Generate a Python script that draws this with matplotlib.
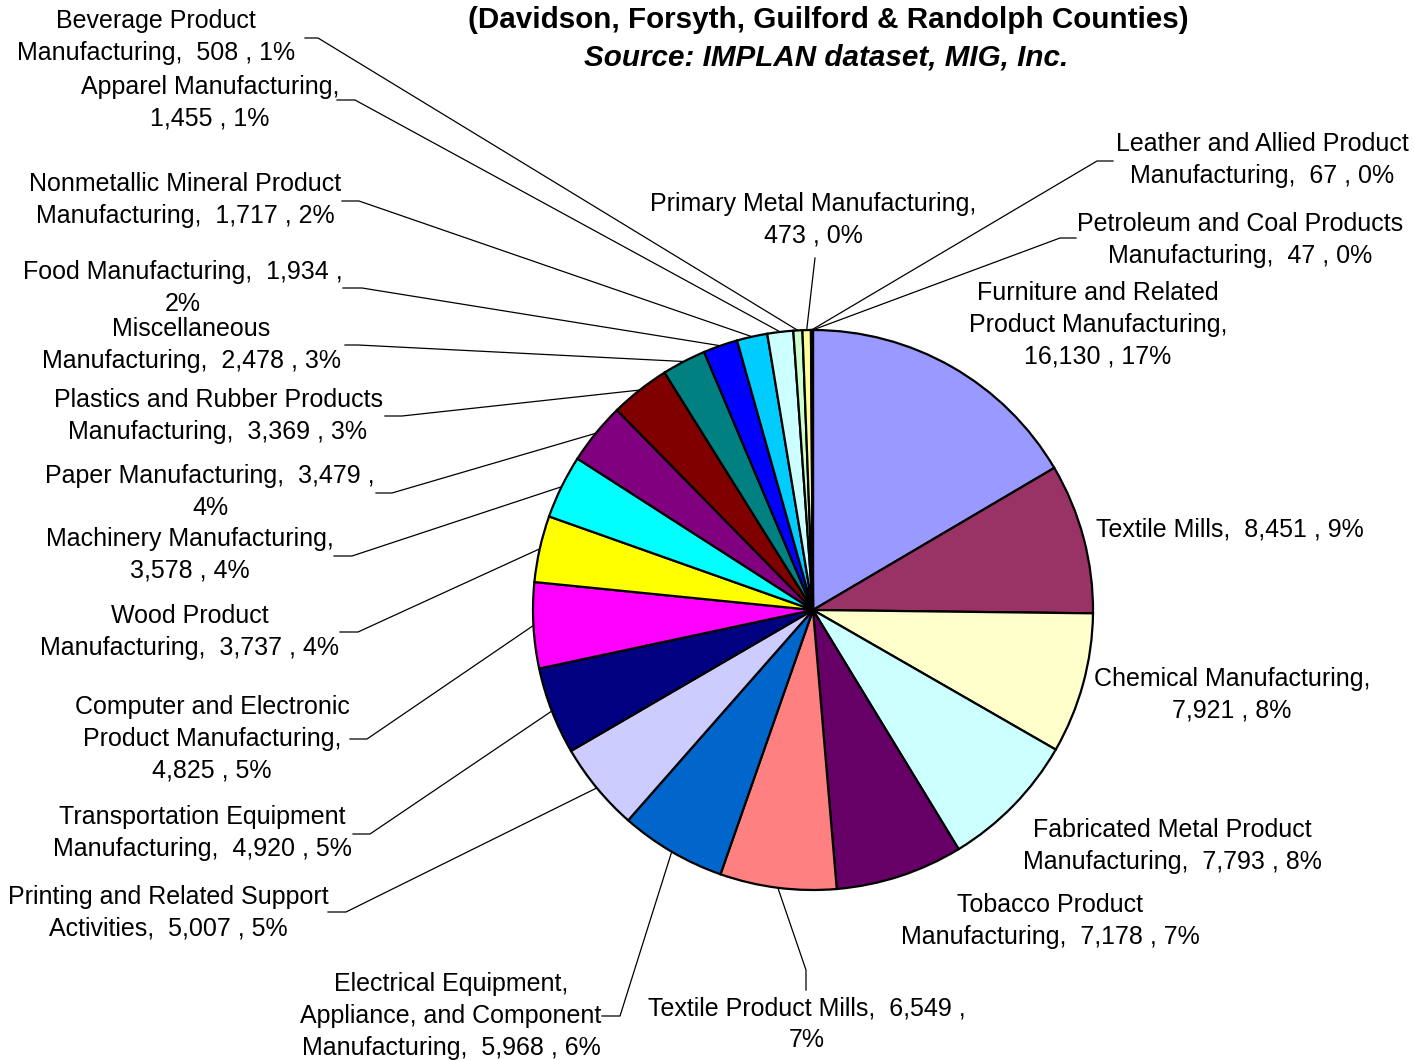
import matplotlib
matplotlib.use("Agg")
import matplotlib.pyplot as plt
import numpy as np

# données (ordre horaire depuis le haut)
categories = [
    "Furniture and Related\nProduct Manufacturing", "Textile Mills",
    "Chemical Manufacturing", "Fabricated Metal Product\nManufacturing",
    "Tobacco Product\nManufacturing", "Textile Product Mills",
    "Electrical Equipment,\nAppliance, and Component\nManufacturing",
    "Printing and Related Support\nActivities",
    "Transportation Equipment\nManufacturing",
    "Computer and Electronic\nProduct Manufacturing",
    "Wood Product\nManufacturing", "Machinery Manufacturing",
    "Paper Manufacturing", "Plastics and Rubber Products\nManufacturing",
    "Miscellaneous\nManufacturing", "Food Manufacturing",
    "Nonmetallic Mineral Product\nManufacturing", "Apparel Manufacturing",
    "Beverage Product\nManufacturing", "Primary Metal Manufacturing",
    "Leather and Allied Product\nManufacturing",
    "Petroleum and Coal Products\nManufacturing",
]
values = [16130, 8451, 7921, 7793, 7178, 6549, 5968, 5007, 4920, 4825, 3737,
          3578, 3479, 3369, 2478, 1934, 1717, 1455, 508, 473, 67, 47]
colors = ["#9999FF", "#993366", "#FFFFCC", "#CCFFFF", "#660066", "#FF8080",
          "#0066CC", "#CCCCFF", "#000080", "#FF00FF", "#FFFF00", "#00FFFF",
          "#800080", "#800000", "#008080", "#0000FF", "#00CCFF", "#CCFFFF",
          "#CCFFCC", "#FFFF99", "#99CCFF", "#FF99CC"]

# mise en page des étiquettes (coordonnées image, y vers le bas)
A = "{n},  {v} , {p}%"
B = "{n},\n{v} , {p}%"
C = "{n},  {v} ,\n{p}%"
fmts = [B, A, B, A, A, C, A, A, A, B, A, B, C, A, A, C, A, B, A, B, A, A]
text_pos = [(1098, 325), (1230, 530), (1232, 695), (1172, 846), (1050, 921),
            (807, 1024), (451, 1016), (168, 913), (202, 833), (212, 739),
            (190, 632), (190, 555), (210, 492), (218, 416), (191, 345),
            (183, 288), (185, 200), (210, 103), (156, 37), (813, 220),
            (1262, 160), (1240, 240)]
leaders = [None, None, None, None, None,
           [(806, 970), (806, 990)], [(620, 1016), (602, 1016)],
           [(346, 912), (328, 912)], [(370, 834), (353, 834)],
           [(367, 739), (350, 739)], [(358, 632), (340, 632)],
           [(352, 556), (334, 556)], [(392, 493), (376, 493)],
           [(402, 416), (385, 416)], [(358, 345), (345, 345)],
           [(362, 288), (343, 288)], [(359, 201), (342, 201)],
           [(355, 100), (337, 100)], [(318, 38), (305, 38)],
           [(815, 258)], [(1097, 161), (1113, 161)], [(1060, 238), (1076, 238)]]

W, H = 1414, 1060
Y = lambda y: H - y
cx, cy, r = 813, Y(610), 280

plt.rcParams['font.family'] = ['Liberation Sans', 'DejaVu Sans']
fig = plt.figure(figsize=(W / 100, H / 100), dpi=100)
ax = fig.add_axes([0, 0, 1, 1])
wedges, _ = ax.pie(values, colors=colors, startangle=90, counterclock=False,
                   center=(cx, cy), radius=r,
                   wedgeprops=dict(edgecolor="black", linewidth=1.6))
ax.set_xlim(0, W); ax.set_ylim(0, H)
ax.set_aspect("equal"); ax.axis("off")

total = sum(values)
for w, n, v, f, (tx, ty), ld in zip(wedges, categories, values, fmts, text_pos, leaders):
    p = round(v / total * 100)
    ax.text(tx, Y(ty), f.format(n=n, v=f"{v:,}", p=p), ha="center", va="center",
            fontsize=18, linespacing=1.42, color="black")
    if ld:
        th = np.radians((w.theta1 + w.theta2) / 2)
        xs = [cx + r * np.cos(th)] + [q[0] for q in ld]
        ys = [cy + r * np.sin(th)] + [Y(q[1]) for q in ld]
        ax.plot(xs, ys, color="black", lw=0.9, zorder=0)

ax.text(828, Y(20), "(Davidson, Forsyth, Guilford & Randolph Counties)",
        ha="center", va="center", fontsize=21.3, fontweight="bold")
ax.text(826, Y(57), "Source: IMPLAN dataset, MIG, Inc.", ha="center",
        va="center", fontsize=21.3, fontweight="bold", style="italic")

fig.savefig("out.png", dpi=100)
